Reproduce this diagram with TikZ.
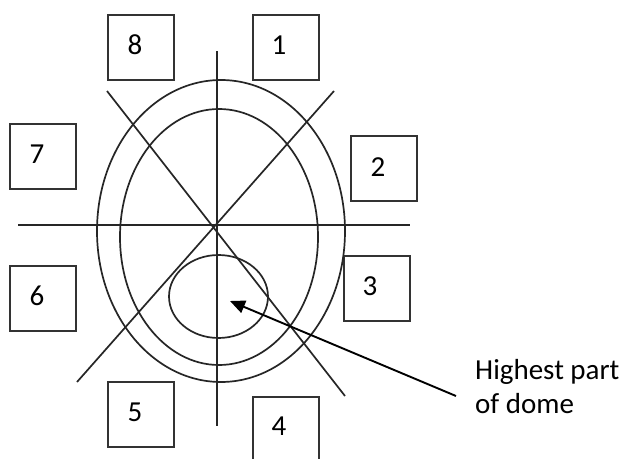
\documentclass[tikz,border=0pt]{standalone}
\usepackage{fontspec}
\setmainfont{Carlito}
\usetikzlibrary{arrows.meta}
\begin{document}
\begin{tikzpicture}[x=1pt,y=-1pt,
  numbox/.style={draw=black!80,line width=2pt,minimum width=66pt,minimum height=65pt,inner sep=0pt},
  numlbl/.style={font=\fontsize{29}{34}\selectfont,text=black,inner sep=0pt},
  guide/.style={draw=black!85,line width=1.7pt}]
\clip (0,0) rectangle (624,458);
\fill[white] (0,0) rectangle (624,458);
% boxes
\node[numbox] (b8) at (140.5,47) {};
\node[numbox] (b1) at (285.5,47) {};
\node[numbox] (b7) at (42.5,156.5) {};
\node[numbox] (b2) at (384,168) {};
\node[numbox] (b6) at (42.5,298.5) {};
\node[numbox] (b3) at (376.5,288) {};
\node[numbox] (b5) at (140.5,414.5) {};
\node[numbox] (b4) at (286,429.5) {};
% numbers
\node[numlbl] (n8) at (135,45) {8};
\node[numlbl] (n1) at (279,45) {1};
\node[numlbl] (n7) at (37,154) {7};
\node[numlbl] (n2) at (378,167) {2};
\node[numlbl] (n6) at (37,296) {6};
\node[numlbl] (n3) at (370,286) {3};
\node[numlbl] (n5) at (135,412) {5};
\node[numlbl] (n4) at (279,426) {4};
% ellipses
\draw[guide] (221,231) ellipse [x radius=124pt, y radius=151pt];
\draw[guide] (219,237) ellipse [x radius=99pt, y radius=128pt];
\draw[guide] (218.5,296.5) ellipse [x radius=49.5pt, y radius=41.5pt];
% lines
\coordinate (vt) at (217,51);
\coordinate (vb) at (217,426);
\coordinate (hl) at (18,225);
\coordinate (hr) at (410,225);
\coordinate (d1a) at (107,91);
\coordinate (d1b) at (345,396);
\coordinate (d2a) at (334,91);
\coordinate (d2b) at (77,382);
\draw[guide] (vt) -- (vb);
\draw[guide] (hl) -- (hr);
\draw[guide] (d1a) -- (d1b);
\draw[guide] (d2a) -- (d2b);
% label and arrow
\node[font=\fontsize{29}{34}\selectfont,text=black,align=left,anchor=north west,inner sep=0pt] (lbl) at (475,359) {Highest part\\of dome};
\coordinate (tail) at (456,396);
\coordinate (peak) at (230,301);
\draw[black,line width=1.9pt,-{Triangle[length=15pt,width=13pt]}] (tail) -- (peak);
\end{tikzpicture}
\end{document}
